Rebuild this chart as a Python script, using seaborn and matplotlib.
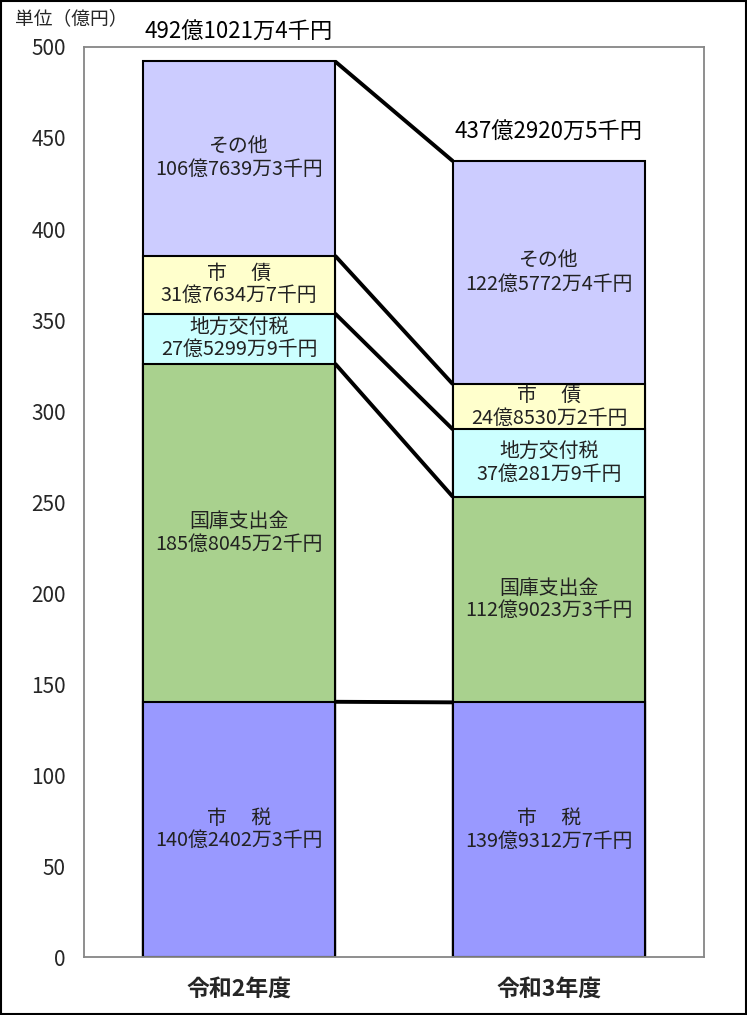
import numpy as np
import pandas as pd
import seaborn as sns
import matplotlib
matplotlib.use("Agg")
import matplotlib.pyplot as plt
from matplotlib.patches import Rectangle

years = ['令和2年度', '令和3年度']
categories = ['市\u3000 税', '国庫支出金', '地方交付税', '市\u3000 債', 'その他']
shizei = [140.2402, 139.9312]
kokko = [185.8045, 112.9023]
chiho = [27.5299, 37.0281]
shisai = [31.7634, 24.8530]
sonota = [106.7639, 122.5772]
amount_labels_r2 = ['140億2402万3千円', '185億8045万2千円', '27億5299万9千円',
                    '31億7634万7千円', '106億7639万3千円']
amount_labels_r3 = ['139億9312万7千円', '112億9023万3千円', '37億281万9千円',
                    '24億8530万2千円', '122億5772万4千円']
total_labels = ['492億1021万4千円', '437億2920万5千円']
colors = ['#9999FF', '#A9D18E', '#CCFFFF', '#FFFFCC', '#CCCCFF']

sns.set_style('white')
plt.rcParams['font.family'] = ['Noto Sans CJK JP', 'DejaVu Sans']

rows = []
for cat, vals, in zip(categories, [shizei, kokko, chiho, shisai, sonota]):
    for yr, v in zip(years, vals):
        rows.append({'year': yr, 'category': cat, 'value': v})
df = pd.DataFrame(rows)
df['category'] = pd.Categorical(df['category'], categories, ordered=True)
df = df.sort_values(['year', 'category'])
df['top'] = df.groupby('year')['value'].cumsum()
df['bottom'] = df['top'] - df['value']

fig = plt.figure(figsize=(7.47, 10.15), dpi=100)
ax = fig.add_axes([0.1124, 0.0571, 0.83, 0.8966])

bar_w = 0.62
# draw cumulative bars from the top category down so each one covers the rest
for cat, col in reversed(list(zip(categories, colors))):
    sub = df[df['category'] == cat]
    sns.barplot(data=sub, x='year', y='top', order=years, color=col, saturation=1,
                edgecolor='black', linewidth=1.5, width=bar_w, ax=ax, zorder=2)

# connector lines between segment boundaries
for cat in categories:
    sub = df[df['category'] == cat].set_index('year')
    ax.plot([0 + bar_w / 2, 1 - bar_w / 2],
            [sub.loc[years[0], 'top'], sub.loc[years[1], 'top']],
            color='black', lw=2.8, zorder=3, solid_capstyle='butt')

# segment labels
for i, (yr, amt) in enumerate(zip(years, [amount_labels_r2, amount_labels_r3])):
    sub = df[df['year'] == yr]
    for (_, r), lab in zip(sub.iterrows(), amt):
        ax.text(i, (r['top'] + r['bottom']) / 2, f"{r['category']}\n{lab}",
                ha='center', va='center', fontsize=14.3, linespacing=1.1,
                color='#222222', zorder=4)
    total = sub['top'].max()
    ax.annotate(total_labels[i], (i, total), xytext=(0, 21), textcoords='offset points',
                ha='center', va='center', fontsize=16, color='black',
                annotation_clip=False)

ax.set_xlim(-0.5, 1.5)
ax.set_ylim(0, 500)
ax.set_yticks(np.arange(0, 501, 50))
ax.set_xlabel('')
ax.set_ylabel('')
ax.tick_params(axis='y', direction='in', length=5, color='#808080', pad=13, labelsize=15)
ax.tick_params(axis='x', which='major', length=0, pad=15, labelsize=16.5)
ax.set_xticks([0.5], minor=True)
ax.tick_params(axis='x', which='minor', direction='in', length=6, color='#808080')
for lab in ax.get_xticklabels():
    lab.set_fontweight('bold')
for sp in ax.spines.values():
    sp.set_visible(True)
    sp.set_color('#868686')
    sp.set_linewidth(1.3)

fig.text(0.02, 0.982, '単位（億円）', fontsize=13.5, ha='left', va='center')
fig.patches.append(Rectangle((0.001, 0.001), 0.997, 0.998, transform=fig.transFigure,
                             fill=False, edgecolor='black', linewidth=1.5))

fig.savefig('out.png', dpi=100)
